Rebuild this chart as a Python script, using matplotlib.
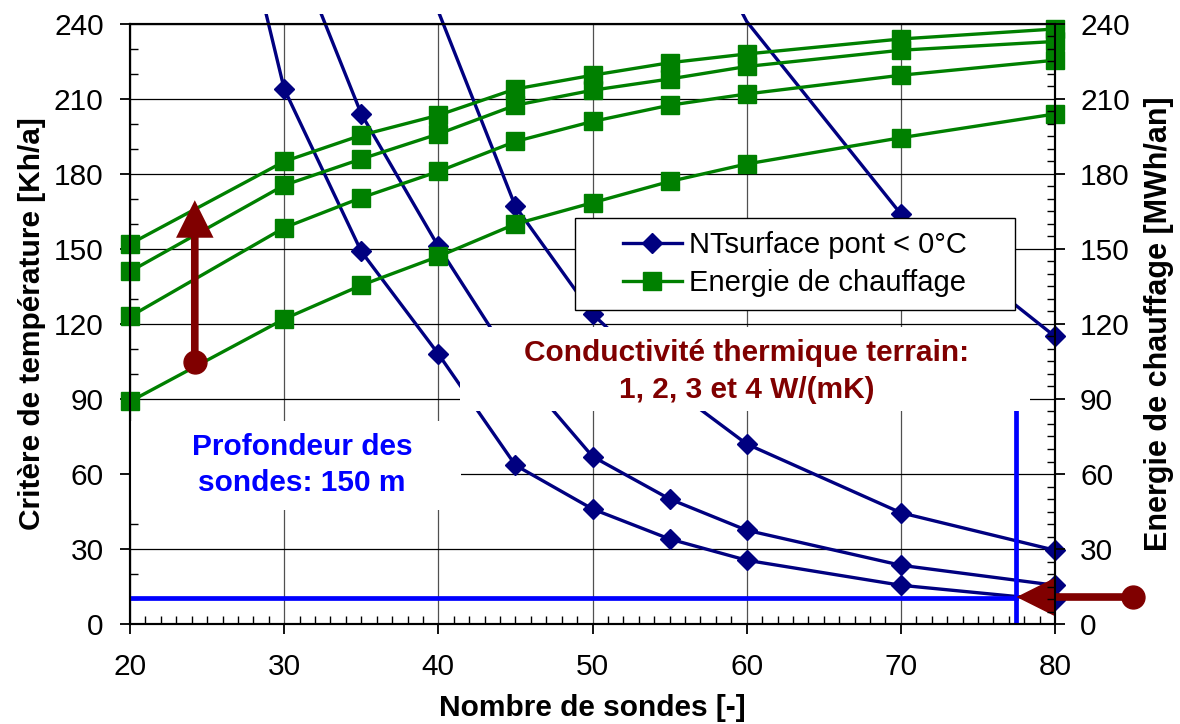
import numpy as np
import matplotlib
matplotlib.use("Agg")
import matplotlib.pyplot as plt
from matplotlib.ticker import MultipleLocator
from matplotlib.patches import Rectangle
from matplotlib.lines import Line2D

plt.rcParams['font.family'] = ['Liberation Sans', 'DejaVu Sans']

nan = np.nan

# Nombre de sondes (axe x)
nombre_sondes = [20, 30, 35, 40, 45, 50, 55, 60, 70, 80]

# Critère NT surface pont < 0°C [Kh/a], une courbe par conductivité (1 a 4 W/(mK))
nt_lambda1 = [nan, nan, nan, nan, nan, nan, 300, 241, 164, 115]
nt_lambda2 = [nan, nan, 330, 245, 167, 124, 95, 72, 44.5, 29.5]
nt_lambda3 = [nan, 281, 204, 151, 103, 67, 50, 37.5, 23.5, 15.5]
nt_lambda4 = [470, 214, 149, 108, 63.5, 46, 34, 25.5, 15.5, 9.5]

# Energie de chauffage [MWh/an]
en_lambda1 = [89, 122, 135.5, 147, 160, 168.5, 177, 184, 194.5, 204]
en_lambda2 = [123, 158.5, 170.5, 181, 193, 201, 207.5, 212, 219.5, 225.5]
en_lambda3 = [141, 175.5, 186, 196, 207.5, 213.5, 218, 223, 229.5, 233]
en_lambda4 = [152, 185, 195.5, 203.5, 214, 219.5, 224.5, 228, 234, 238]

# Seuil retenu et nombre de sondes correspondant
seuil_nt = 10.5
sondes_limite = 77.5

bleu_fonce = '#000080'
vert = '#008000'
bleu = '#0000FF'
rouge = '#800000'
fs = 21.5

fig = plt.figure(figsize=(11.8, 7.24), dpi=100)
ax = fig.add_axes([0.1102, 0.1381, 0.7839, 0.8288])
ax.set_xlim(20, 80)
ax.set_ylim(0, 240)

# les courbes depassent un peu le haut du cadre
clip_haut = Rectangle((0, 0), 1, 1.017, transform=ax.transAxes)

for nt in [nt_lambda1, nt_lambda2, nt_lambda3, nt_lambda4]:
    ln, = ax.plot(nombre_sondes, nt, color=bleu_fonce, lw=2.4, zorder=3)
    ln.set_clip_path(clip_haut)
    nt_arr = np.array(nt, dtype=float)
    pts = np.where(nt_arr <= 240, nt_arr, nan)
    ax.plot(nombre_sondes, pts, ls='none', marker='D', ms=10.5, color=bleu_fonce,
            zorder=3, clip_on=False)

for en in [en_lambda1, en_lambda2, en_lambda3, en_lambda4]:
    ax.plot(nombre_sondes, en, color=vert, lw=2.4, marker='s', ms=13, zorder=3.2, clip_on=False)

# seuil et nombre de sondes
ax.plot([20, sondes_limite], [seuil_nt, seuil_nt], color=bleu, lw=3.4, zorder=3.5)
ax.plot([sondes_limite, sondes_limite], [0, 100], color=bleu, lw=3.4, zorder=3.5)

# fleches
ax.annotate('', xy=(24.2, 169.5), xytext=(24.2, 104.8),
            arrowprops=dict(width=5.5, headwidth=27, headlength=27, color=rouge, lw=0, shrink=0),
            zorder=4.5)
ax.plot([24.2], [104.8], 'o', ms=16.5, color=rouge, zorder=4.6)
ax.annotate('', xy=(sondes_limite, 10.8), xytext=(85.05, 10.8),
            arrowprops=dict(width=5.5, headwidth=27, headlength=27, color=rouge, lw=0, shrink=0),
            zorder=4.5, annotation_clip=False)
ax.plot([85.05], [10.8], 'o', ms=16.5, color=rouge, zorder=4.6, clip_on=False)

# cadres blancs sous les textes
ax.add_patch(Rectangle((20, 45.5), 21.5, 35.5, facecolor='white', edgecolor='none', zorder=4))
ax.add_patch(Rectangle((41.4, 85), 37, 33.8, facecolor='white', edgecolor='none', zorder=4))
ax.text(31.15, 63.6, "Profondeur des\nsondes: 150 m", ha='center', va='center',
        color=bleu, fontsize=21.5, fontweight='bold', linespacing=1.4, zorder=6)
ax.text(60, 101, "Conductivité thermique terrain:\n1, 2, 3 et 4 W/(mK)", ha='center', va='center',
        color=rouge, fontsize=21.5, fontweight='bold', linespacing=1.4, zorder=6)

# legende
lx, ly, lw_, lh = 0.4811, 0.5233, 0.4757, 0.1533
ax.add_patch(Rectangle((lx, ly), lw_, lh, transform=ax.transAxes, facecolor='white',
                       edgecolor='black', lw=1.0, zorder=5))
handles = [Line2D([], [], color=bleu_fonce, lw=2.4, marker='D', ms=10.5),
           Line2D([], [], color=vert, lw=2.4, marker='s', ms=13)]
leg = ax.legend(handles, ['NTsurface pont < 0°C', 'Energie de chauffage'], loc='center',
                bbox_to_anchor=(lx + lw_ / 2, ly + lh / 2), frameon=False, fontsize=21,
                handlelength=2.0, handletextpad=0.25, labelspacing=0.35, borderpad=0)
leg.set_zorder(6)

# axes et grille
ax.xaxis.set_major_locator(MultipleLocator(10))
ax.xaxis.set_minor_locator(MultipleLocator(1))
ax.yaxis.set_major_locator(MultipleLocator(30))
ax.yaxis.set_minor_locator(MultipleLocator(10))
ax.grid(True, axis='y', which='major', color='black', lw=0.9, zorder=0.5)
ax.grid(True, axis='x', which='major', color='#505050', lw=0.9, zorder=0.5)
ax.tick_params(which='major', direction='out', length=7, width=1.3, labelsize=fs, pad=12)
ax.tick_params(which='minor', direction='in', length=6, width=1.0)
ax.tick_params(axis='x', which='major', pad=14)
for s in ax.spines.values():
    s.set_linewidth(1.5)

ax2 = ax.twinx()
ax2.set_ylim(0, 240)
ax2.yaxis.set_major_locator(MultipleLocator(30))
ax2.yaxis.set_minor_locator(MultipleLocator(5))
ax2.tick_params(which='major', direction='out', length=7, width=1.3, labelsize=fs, pad=11)
ax2.tick_params(which='minor', direction='in', length=6, width=1.0)
for s in ax2.spines.values():
    s.set_linewidth(1.5)

ax.set_xlabel('Nombre de sondes [-]', fontsize=fs, fontweight='bold', labelpad=9)
ax.set_ylabel('Critère de température [Kh/a]', fontsize=fs, fontweight='bold', labelpad=6)
ax2.set_ylabel('Energie de chauffage [MWh/an]', fontsize=22, fontweight='bold', labelpad=10)

fig.savefig('out.png', dpi=100)
